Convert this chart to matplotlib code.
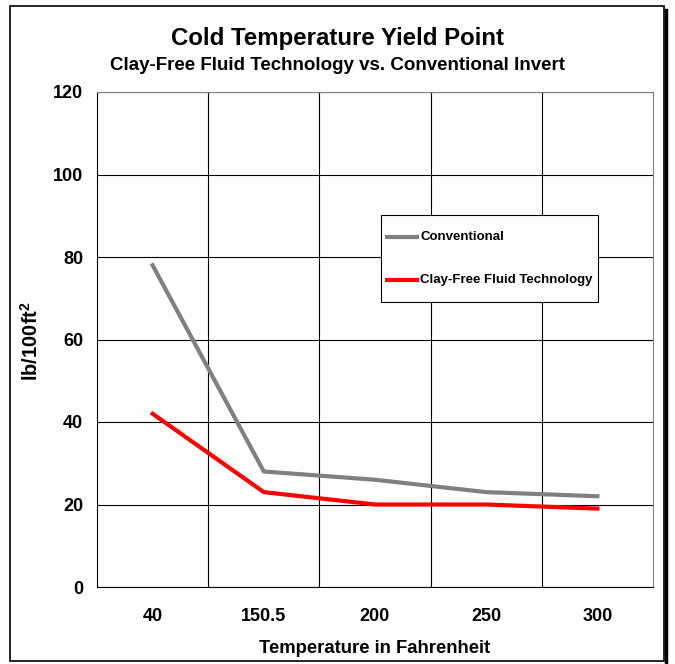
import matplotlib
matplotlib.use("Agg")
import matplotlib.pyplot as plt
from matplotlib.patches import Rectangle
from matplotlib.lines import Line2D

temps = ["40", "150.5", "200", "250", "300"]
conventional = [78, 28, 26, 23, 22]
clay_free = [42, 23, 20, 20, 19]

plt.rcParams['font.family'] = ['Liberation Sans', 'DejaVu Sans']
plt.rcParams['font.weight'] = 'bold'
plt.rcParams['mathtext.fontset'] = 'custom'
plt.rcParams['mathtext.bf'] = 'Liberation Sans:bold'

fig = plt.figure(figsize=(6.75, 6.64), dpi=100)
W, H = 675, 664
ax = fig.add_axes([97 / W, 1 - 587 / H, (653 - 97) / W, (587 - 92) / H])

x = [i + 0.5 for i in range(len(temps))]
ax.plot(x, conventional, color='#808080', lw=3, label='Conventional', zorder=3)
ax.plot(x, clay_free, color='#ff0000', lw=3, label='Clay-Free Fluid Technology', zorder=3)

ax.set_xlim(0, len(temps))
ax.set_ylim(0, 120)
ax.set_yticks(range(0, 121, 20))
ax.set_xticks(x)
ax.set_xticklabels(temps)
ax.set_xticks(range(1, len(temps)), minor=True)
ax.grid(True, which='minor', axis='x', color='black', lw=0.8)
ax.grid(True, which='major', axis='y', color='black', lw=0.8)
ax.tick_params(which='both', length=0)
ax.tick_params(axis='x', labelsize=13, pad=15)
ax.tick_params(axis='y', labelsize=13, pad=10)
for lab in ax.get_xticklabels() + ax.get_yticklabels():
    lab.set_fontweight('bold')
for sp in ax.spines.values():
    sp.set_color('#808080')
    sp.set_linewidth(0.8)
ax.spines['left'].set_color('black')
ax.spines['bottom'].set_color('black')

ax.set_xlabel('Temperature in Fahrenheit', fontsize=13.3, fontweight='bold', labelpad=11)
fig.text(31 / W, 1 - 341 / H, 'lb/100ft$^{\\mathbf{2}}$', rotation=90, ha='center', va='center',
         fontsize=14.5, fontweight='bold')

fig.text(0.5, 1 - 38 / H, 'Cold Temperature Yield Point', ha='center', va='center',
         fontsize=17.3, fontweight='bold')
fig.text(0.5, 1 - 66 / H, 'Clay-Free Fluid Technology vs. Conventional Invert', ha='center',
         va='center', fontsize=13.5, fontweight='bold')

# legend box
lx0, lx1 = (381 - 97) / 556, (598 - 97) / 556
ly0, ly1 = (587 - 302) / 495, (587 - 215) / 495
ax.add_patch(Rectangle((lx0, ly0), lx1 - lx0, ly1 - ly0, transform=ax.transAxes,
                       facecolor='white', edgecolor='black', lw=0.8, zorder=5))
for (name, col, yy) in [('Conventional', '#808080', 237), ('Clay-Free Fluid Technology', '#ff0000', 280)]:
    ya = (587 - yy) / 495
    ax.add_line(Line2D([(387 - 97) / 556, (417 - 97) / 556], [ya, ya], transform=ax.transAxes,
                       color=col, lw=3, zorder=6))
    ax.text((420 - 97) / 556, ya, name, transform=ax.transAxes, va='center', ha='left',
            fontsize=9.5, fontweight='bold', zorder=6)

# outer chart frame
fig.add_artist(Rectangle((10 / W, 1 - 661 / H), (664 - 10) / W, (661 - 6) / H,
                         transform=fig.transFigure, fill=False, edgecolor='black', lw=1.2))
fig.add_artist(Line2D([666 / W, 666 / W], [1 - 662 / H, 1 - 10 / H], transform=fig.transFigure,
                      color='black', lw=2.5))

fig.savefig('out.png', dpi=100)
